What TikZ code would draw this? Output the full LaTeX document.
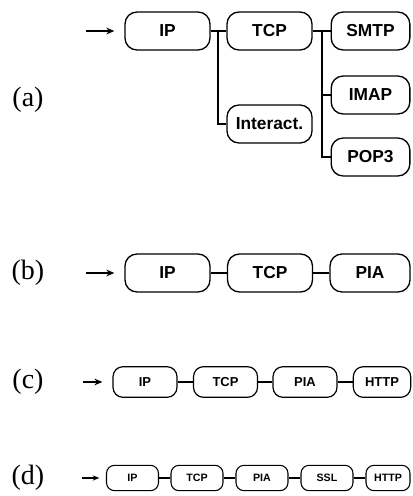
\documentclass[tikz,border=0pt]{standalone}
\usepackage{fontspec}
\setmainfont{Liberation Serif}
\newfontfamily\helv{Liberation Sans}
\usepackage{tikz}
\usetikzlibrary{arrows.meta}

\tikzset{
  protbox/.style={draw, line width=1pt, rounded corners=9pt, minimum width=63.75pt, minimum height=28.5pt, inner sep=0pt, font=\helv\bfseries\fontsize{13}{13}\selectfont},
  protmid/.style={draw, line width=0.9pt, rounded corners=7.5pt, minimum width=48pt, minimum height=23pt, inner sep=0pt, font=\helv\bfseries\fontsize{9.75}{10}\selectfont},
  protsmall/.style={draw, line width=0.8pt, rounded corners=6pt, minimum width=39pt, minimum height=19pt, inner sep=0pt, font=\helv\bfseries\fontsize{8}{8}\selectfont},
  caselabel/.style={font=\fontsize{21}{21}\selectfont},
  wire/.style={line width=1pt},
  feed/.style={line width=1pt, -{Stealth[length=6pt,width=5pt]}}
}

\begin{document}
\begin{tikzpicture}[x=0.75pt,y=0.75pt,yscale=-1,xscale=1]
\useasboundingbox (0,0) rectangle (412,496);

% Case (a)
\node[caselabel] (lba) at (28,100) {(a)};
\node[protbox] (ipa) at (167.5,31) {IP};
\node[protbox] (tcpa) at (269.5,31) {TCP};
\node[protbox] (inta) at (269.5,124) {Interact.};
\node[protbox, minimum width=59pt] (smtpa) at (370.5,31) {SMTP};
\node[protbox, minimum width=59pt] (imapa) at (370.5,95) {IMAP};
\node[protbox, minimum width=59pt] (popa) at (370.5,157) {POP3};
\coordinate (ina) at (86,31);
\coordinate (ja) at (218,31);
\coordinate (jb) at (322,31);
\draw[feed] (ina) -- ([xshift=-7.5pt]ipa.west);
\draw[wire] (ipa) -- (tcpa);
\draw[wire] (ja) |- (inta.west);
\draw[wire] (tcpa) -- (smtpa);
\draw[wire] (jb) |- (imapa.west);
\draw[wire] (jb) |- (popa.west);

% Case (b)
\node[caselabel] (lbb) at (28,273) {(b)};
\node[protbox] (ipb) at (167.5,273) {IP};
\node[protbox] (tcpb) at (270,273) {TCP};
\node[protbox, minimum width=60pt] (piab) at (370,273) {PIA};
\coordinate (inb) at (86,273);
\draw[feed] (inb) -- ([xshift=-7.5pt]ipb.west);
\draw[wire] (ipb) -- (tcpb);
\draw[wire] (tcpb) -- (piab);

% Case (c)
\node[caselabel] (lbc) at (28,382) {(c)};
\node[protmid] (ipc) at (145,382) {IP};
\node[protmid] (tcpc) at (225.5,382) {TCP};
\node[protmid] (piac) at (305,382) {PIA};
\node[protmid, minimum width=43pt] (httpc) at (382,382) {HTTP};
\coordinate (inc) at (83,382);
\draw[feed, line width=0.9pt] (inc) -- ([xshift=-7.5pt]ipc.west);
\draw[wire, line width=0.9pt] (ipc) -- (tcpc);
\draw[wire, line width=0.9pt] (tcpc) -- (piac);
\draw[wire, line width=0.9pt] (piac) -- (httpc);

% Case (d)
\node[caselabel] (lbd) at (28,478) {(d)};
\node[protsmall] (ipd) at (132.5,478) {IP};
\node[protsmall] (tcpd) at (197,478) {TCP};
\node[protsmall] (piad) at (262,478) {PIA};
\node[protsmall] (ssld) at (327,478) {SSL};
\node[protsmall, minimum width=33pt] (httpd) at (388,478) {HTTP};
\coordinate (ind) at (82,478);
\draw[feed, line width=0.8pt, -{Stealth[length=5pt,width=4pt]}] (ind) -- ([xshift=-5pt]ipd.west);
\draw[wire, line width=0.8pt] (ipd) -- (tcpd);
\draw[wire, line width=0.8pt] (tcpd) -- (piad);
\draw[wire, line width=0.8pt] (piad) -- (ssld);
\draw[wire, line width=0.8pt] (ssld) -- (httpd);

\end{tikzpicture}
\end{document}
